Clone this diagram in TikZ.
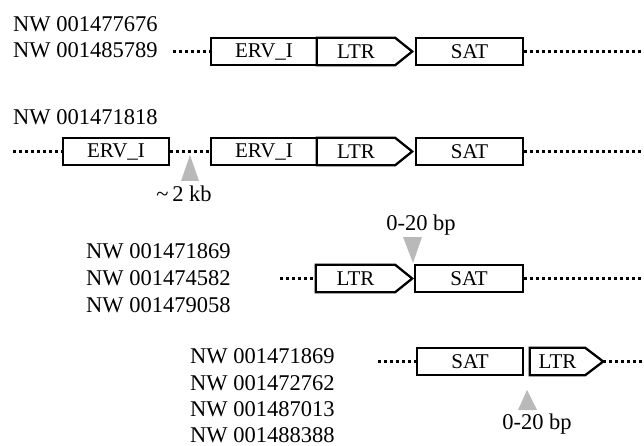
\documentclass[tikz,border=0pt]{standalone}
\usepackage{fontspec}
\setmainfont{Liberation Serif}
\usepackage{tikz}
\usetikzlibrary{calc}

\tikzset{
  seg/.style={draw, line width=2.3pt, minimum height=27pt, inner sep=0pt,
    font=\fontsize{21}{24}\selectfont},
  ltrbody/.style={minimum height=27pt, inner sep=0pt,
    font=\fontsize{21}{24}\selectfont},
  ltredge/.style={line width=2.3pt, line join=miter},
  gap/.style={line width=2.6pt, dash pattern=on 2.6pt off 3.4pt},
  acc/.style={anchor=base west, inner sep=0pt, font=\fontsize{22.5}{26}\selectfont},
  note/.style={anchor=base, inner sep=0pt, font=\fontsize{22.5}{26}\selectfont},
  tri/.style={fill=gray!55}
}

\begin{document}
\begin{tikzpicture}[x=1pt,y=-1pt]
  \useasboundingbox (0,0) rectangle (644,446);

  % Row 1
  \node[acc] (a1) at (13,32) {NW 001477676};
  \node[acc] (a2) at (13,58) {NW 001485789};
  \coordinate (r1s) at (173,51.5);
  \coordinate (r1e) at (644,51.5);
  \node[seg, minimum width=106pt] (r1erv) at (264,51.5) {ERV\_I};
  \node[ltrbody, minimum width=78pt] (r1ltr) at (356,51.5) {LTR};
  \draw[ltredge] (r1ltr.south west) -- (r1ltr.north west) -- (r1ltr.north east)
    -- ($(r1ltr.east)+(17,0)$) -- (r1ltr.south east) -- cycle;
  \node[seg, minimum width=107pt] (r1sat) at (469.5,51.5) {SAT};
  \draw[gap] (r1s) -- (r1erv.west);
  \draw[gap] (r1sat.east) -- (r1e);

  % Row 2
  \node[acc] (b1) at (13,125) {NW 001471818};
  \coordinate (r2s) at (13,151.5);
  \coordinate (r2e) at (644,151.5);
  \node[seg, minimum width=106pt] (r2erva) at (116,151.5) {ERV\_I};
  \node[seg, minimum width=106pt] (r2ervb) at (264,151.5) {ERV\_I};
  \node[ltrbody, minimum width=78pt] (r2ltr) at (356,151.5) {LTR};
  \draw[ltredge] (r2ltr.south west) -- (r2ltr.north west) -- (r2ltr.north east)
    -- ($(r2ltr.east)+(17,0)$) -- (r2ltr.south east) -- cycle;
  \node[seg, minimum width=107pt] (r2sat) at (469.5,151.5) {SAT};
  \draw[gap] (r2s) -- (r2erva.west);
  \draw[gap] (r2erva.east) -- (r2ervb.west);
  \draw[gap] (r2sat.east) -- (r2e);
  \fill[tri] (190,155) -- (181,181) -- (199,181) -- cycle;
  \node[note] (kb) at (184,202) {\textasciitilde\,2 kb};

  % Row 3
  \node[acc] (c1) at (86,258) {NW 001471869};
  \node[acc] (c2) at (86,285) {NW 001474582};
  \node[acc] (c3) at (86,312) {NW 001479058};
  \coordinate (r3s) at (280,278.5);
  \coordinate (r3e) at (644,278.5);
  \node[ltrbody, minimum width=79pt] (r3ltr) at (355.5,278.5) {LTR};
  \draw[ltredge] (r3ltr.south west) -- (r3ltr.north west) -- (r3ltr.north east)
    -- ($(r3ltr.east)+(17,0)$) -- (r3ltr.south east) -- cycle;
  \node[seg, minimum width=108pt] (r3sat) at (469,278.5) {SAT};
  \draw[gap] (r3s) -- (r3ltr.west);
  \draw[gap] (r3sat.east) -- (r3e);
  \fill[tri] (403,237) -- (422,237) -- (413,263) -- cycle;
  \node[note] (bp1) at (421,230) {0-20 bp};

  % Row 4
  \node[acc] (d1) at (190,363) {NW 001471869};
  \node[acc] (d2) at (190,390) {NW 001472762};
  \node[acc] (d3) at (190,416) {NW 001487013};
  \node[acc] (d4) at (190,442) {NW 001488388};
  \coordinate (r4s) at (378,361.5);
  \coordinate (r4e) at (644,361.5);
  \node[seg, minimum width=106pt] (r4sat) at (470,361.5) {SAT};
  \node[ltrbody, minimum width=55pt] (r4ltr) at (557.5,361.5) {LTR};
  \draw[ltredge] (r4ltr.south west) -- (r4ltr.north west) -- (r4ltr.north east)
    -- ($(r4ltr.east)+(18,0)$) -- (r4ltr.south east) -- cycle;
  \draw[gap] (r4s) -- (r4sat.west);
  \draw[gap] ($(r4ltr.east)+(18,0)$) -- (r4e);
  \fill[tri] (527,390) -- (518,410) -- (537,410) -- cycle;
  \node[note] (bp2) at (537,429) {0-20 bp};
\end{tikzpicture}
\end{document}
